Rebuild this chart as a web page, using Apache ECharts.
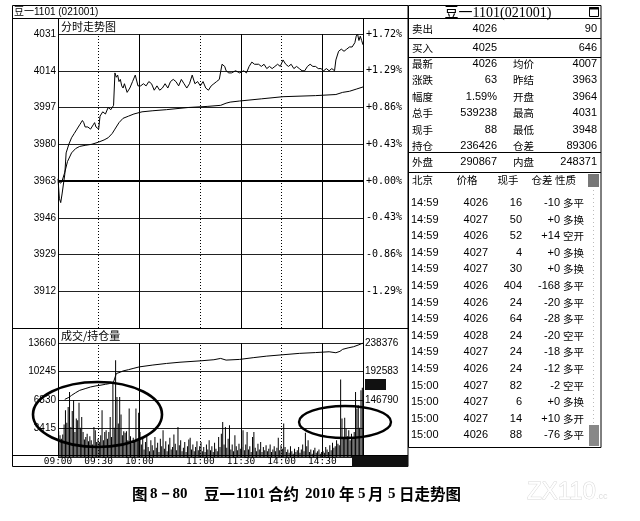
<!DOCTYPE html>
<html><head><meta charset="utf-8">
<script src="https://cdn.jsdelivr.net/npm/echarts@6/dist/echarts.min.js"></script>
<style>html,body{margin:0;padding:0;background:#fff}#c{width:640px;height:521px}</style>
</head><body><div id="c"></div>
<script>
// ---------- data ----------
const prevClose = 3963;
const timeLabels = {0:'09:00',30:'09:30',60:'10:00',105:'11:00',135:'11:30',165:'14:00',195:'14:30'};
const solidTimes = [60,135,195];
const dottedTimes = [30,105,165];

const pricePoints = [[0,3964],[1,3955],[2,3953],[3,3957],[5,3966],[6,3976],[8,3980],[10,3983],[12,3985],[14,3987],[16,3989],[18,3991],[19,3990],[20,3988],[22,3988],[24,3987],[26,3989],[27,3990],[28,3988],[30,3987],[31,3993],[33,3995],[35,3994],[37,3997],[39,3996],[41,3998],[42,4013],[43,4011],[44,4012],[45,4009],[46,4010],[47,4007],[48,4006],[49,4008],[51,4004],[53,4006],[55,4009],[57,4012],[59,4007],[61,4007],[63,4008],[65,4007],[67,4009],[69,4008],[71,4005],[73,4007],[75,4005],[77,4006],[79,4008],[81,4006],[83,4009],[85,4010],[87,4009],[89,4007],[91,4010],[93,4008],[95,4006],[97,4008],[99,4012],[101,4008],[103,4009],[105,4007],[107,4009],[109,4006],[111,4005],[113,4007],[115,4008],[117,4009],[119,4010],[121,4017],[123,4016],[124,4014],[126,4013],[128,4013],[131,4014],[134,4013],[137,4014],[139,4013],[141,4016],[143,4018],[145,4017],[148,4017],[150,4016],[152,4017],[154,4015],[156,4016],[158,4015],[160,4016],[162,4017],[164,4016],[166,4019],[168,4017],[170,4016],[172,4017],[174,4015],[176,4016],[178,4015],[180,4014],[182,4014],[184,4016],[186,4017],[188,4016],[190,4016],[192,4015],[194,4015],[196,4014],[198,4015],[200,4014],[202,4015],[204,4014],[205,4019],[207,4023],[209,4024],[211,4023],[213,4024],[215,4025],[217,4025],[219,4027],[220,4030],[221,4031],[222,4028],[223,4030],[224,4028],[225,4026]];

const avgPoints = [[0,3963],[2,3962],[3,3963],[5,3967],[7,3972],[10,3976],[13,3978],[16,3979],[20,3979.5],[25,3980],[30,3981],[34,3982],[37,3983],[40,3985],[42,3987],[45,3990],[48,3992],[52,3993],[56,3994],[62,3995],[70,3995.5],[80,3996],[96,3997],[110,3997.5],[120,3998],[124,3999],[127,3999.5],[134,4000],[150,4001],[166,4002],[190,4002.5],[205,4003],[210,4004],[215,4004.5],[220,4005.5],[225,4006.5]];

const volume = [
 3100,2600,2200,2700,3900,5600,4100,6000,7800,3600,5500,6800,3000,4600,4400,6500,3500,4800,3000,2100,2400,2800,1900,2500,2000,1500,3600,3200,1800,2200,
 1800,2600,5600,2000,3000,3200,2200,3000,4800,2400,9000,3500,11600,7200,4000,7200,5100,2600,3100,2900,3100,2000,5800,2500,1600,2300,2000,5800,2200,5300,
 3000,1500,2200,900,1800,2600,1200,700,2000,1400,800,2400,1100,1700,600,2200,1300,3200,1000,1900,700,1500,2300,900,1200,2700,1600,800,3600,1400,2000,700,1100,1800,600,1300,2100,2300,900,1500,700,1200,1900,800,1300,
 1800,700,1200,600,1500,900,2000,800,1300,600,1700,1000,700,2400,1200,2800,4200,1500,3600,1100,2200,3800,900,1500,700,2600,1300,800,1600,1000,
 1200,3200,800,1500,3000,900,1300,600,2400,3000,1100,700,1600,900,1800,600,1200,800,1400,700,1000,1500,600,900,1300,700,1100,2300,800,1400,
 1000,4000,1200,600,900,500,1300,700,400,1000,600,800,1200,500,900,1500,700,2900,1300,2000,600,900,400,800,1100,500,700,900,400,600,
 700,500,1200,900,600,1400,800,1700,1100,1300,2000,1600,1400,9300,4600,2200,4700,3400,2500,3200,2000,2800,2400,3000,7800,5800,6200,3500,8000,8300
];

const oiPoints = [[5,147800],[8,151000],[10,154200],[13,158500],[16,162300],[20,165000],[24,167700],[28,169500],[31,170400],[35,172000],[38,173200],[41,175800],[43,189300],[46,191500],[48,193500],[52,195500],[56,197800],[60,200000],[70,203000],[80,205500],[90,207500],[105,209700],[115,211500],[120,213600],[124,210900],[134,212000],[144,214800],[154,217300],[166,219500],[178,221700],[190,223000],[200,224300],[205,222700],[208,225000],[210,228200],[214,230500],[218,232400],[222,235500],[225,238376]];

const oiTop = 238376, oiStep = 45793;
const volTop = 13660, volStep = 3415;

const tableTitle = '豆一1101(021001)';
const leftTitle = '豆一1101 (021001)';
const askRow = ['卖出','4026','90'];
const bidRow = ['买入','4025','646'];
const quoteRows = [['最新','4026','均价','4007'],['涨跌','63','昨结','3963'],['幅度','1.59%','开盘','3964'],['总手','539238','最高','4031'],['现手','88','最低','3948'],['持仓','236426','仓差','89306']];
const outerInner = ['外盘','290867','内盘','248371'];
const tradeHeader = ['北京','价格','现手','仓差','性质'];
const trades = [
 ['14:59','4026','16','-10','多平'],['14:59','4027','50','+0','多换'],['14:59','4026','52','+14','空开'],
 ['14:59','4027','4','+0','多换'],['14:59','4027','30','+0','多换'],['14:59','4026','404','-168','多平'],
 ['14:59','4026','24','-20','多平'],['14:59','4026','64','-28','多平'],['14:59','4028','24','-20','空平'],
 ['14:59','4027','24','-18','多平'],['14:59','4026','24','-12','多平'],['15:00','4027','82','-2','空平'],
 ['15:00','4027','6','+0','多换'],['15:00','4027','14','+10','多开'],['15:00','4026','88','-76','多平']
];
// [text, x, isCJK]
const captionParts = [['图',132,1],['8－80',150,0],['豆一',204,1],['1101',236,0],['合约',268,1],['2010',305,0],['年',339,1],['5',358,0],['月',368,1],['5',388,0],['日走势图',399,1]];

// ---------- chart ----------
const SANS = '"Liberation Sans", Arial, "Noto Sans CJK SC", sans-serif';
const CJK = '"Noto Sans CJK SC", sans-serif';

function T(x, y, text, font, align, extra) {
  return {type:'text', z:30, x:x, y:y, silent:true,
    style:Object.assign({text:text, font:font, fill:'#000', align:align||'left', verticalAlign:'middle'}, extra||{})};
}
function L(x1,y1,x2,y2,w,color,dash){
  return {type:'line', z:25, silent:true, shape:{x1:x1,y1:y1,x2:x2,y2:y2}, style:{stroke:color||'#000', lineWidth:w||1, lineDash:dash||null}};
}
function R(x,y,w,h,fill,stroke){
  return {type:'rect', z:24, silent:true, shape:{x:x,y:y,width:w,height:h}, style:{fill:fill||'none', stroke:stroke||null, lineWidth:1}};
}

const g = [];
// left window frame
g.push(R(12.5,5.5,395.5,461,'none','#000'));
g.push(L(12,18.5,408,18.5));
g.push(T(14,12,leftTitle,'10px '+SANS));
g.push(L(58.5,18,58.5,455));
g.push(L(363.5,18,363.5,455));
g.push(T(61,27,'分时走势图','11px '+CJK));
g.push(L(12,328.5,408,328.5));
g.push(T(61,336,'成交/持仓量','11px '+CJK));
g.push(L(12,455.5,408,455.5));
g.push(R(352,456,56,11,'#111'));
g.push(R(365,379,21,11,'#111'));
// annotation ellipses
g.push({type:'ellipse', z:40, silent:true, shape:{cx:97.5,cy:414.5,rx:64.5,ry:32.5}, style:{fill:'none',stroke:'#000',lineWidth:2.6}});
g.push({type:'ellipse', z:40, silent:true, shape:{cx:345,cy:422,rx:46,ry:16}, style:{fill:'none',stroke:'#000',lineWidth:2.4}});

// right table
g.push(R(408.5,5.5,192.5,442,'none','#000'));
[18.5,38.5,57.5,152.5,172.5].forEach(y=>g.push(L(408,y,601,y)));
g.push(T(498,13,tableTitle,'14px "Liberation Serif", "Noto Sans CJK SC", serif','center'));
g.push(R(589.5,7.5,9,9,'none','#000'));
g.push(L(589,8.5,599,8.5,2));
const lf = '10.5px '+CJK, nf = '11px '+SANS;
g.push(T(412,29,askRow[0],lf)); g.push(T(497,29,askRow[1],nf,'right')); g.push(T(597,29,askRow[2],nf,'right'));
g.push(T(412,48,bidRow[0],lf)); g.push(T(497,48,bidRow[1],nf,'right')); g.push(T(597,48,bidRow[2],nf,'right'));
quoteRows.forEach((r,i)=>{
  const y = 64 + i*16.4;
  g.push(T(412,y,r[0],lf)); g.push(T(497,y,r[1],nf,'right'));
  g.push(T(513,y,r[2],lf)); g.push(T(597,y,r[3],nf,'right'));
});
g.push(T(412,162,outerInner[0],lf)); g.push(T(497,162,outerInner[1],nf,'right'));
g.push(T(513,162,outerInner[2],lf)); g.push(T(597,162,outerInner[3],nf,'right'));
g.push(T(412,180,tradeHeader[0],lf)); g.push(T(467,180,tradeHeader[1],lf,'center'));
g.push(T(508,180,tradeHeader[2],lf,'center')); g.push(T(542,180,tradeHeader[3],lf,'center'));
g.push(T(555,180,tradeHeader[4],lf));
g.push(R(588,174,11,13,'#777'));
g.push(L(593.5,190,593.5,424,1,'#bbb',[1,3]));
g.push(R(589,425,10,21,'#888'));
trades.forEach((r,i)=>{
  const y = 203 + i*16.6;
  g.push(T(411,y,r[0],nf)); g.push(T(488,y,r[1],nf,'right'));
  g.push(T(522,y,r[2],nf,'right')); g.push(T(560,y,r[3],nf,'right'));
  g.push(T(563,y,r[4],lf));
});
// caption
captionParts.forEach(p=>{
  g.push(T(p[1],494,p[0], p[2] ? 'bold 15.5px "Noto Sans CJK SC", sans-serif' : 'bold 15px "Liberation Serif", serif'));
});
g.push(T(527,492,'ZX110',' 24px '+SANS,'left',{fill:'#fff',stroke:'#d8d8d8',lineWidth:1}));
g.push(T(596,497,'.cc','9px '+SANS,'left',{fill:'#ddd'}));

const vLines = solidTimes.map(t=>({xAxis:t, lineStyle:{type:'solid',color:'#000',width:1}}))
  .concat(dottedTimes.map(t=>({xAxis:t, lineStyle:{type:[1,2],color:'#000',width:1}})));

const pctFmt = v => { const d = v - prevClose; if (d <= -68) return ''; const p = d/prevClose*100; return (p>=0?'+':'') + p.toFixed(2) + '%'; };

const option = {
  animation:false,
  backgroundColor:'#fff',
  grid:[
    {left:58, top:34, width:305, height:294},
    {left:58, top:343, width:305, height:114}
  ],
  xAxis:[
    {gridIndex:0, type:'value', min:0, max:225, show:false},
    {gridIndex:1, type:'value', min:0, max:225, interval:15,
     axisLine:{show:false}, axisTick:{show:false}, splitLine:{show:false},
     axisLabel:{margin:0, color:'#000', fontFamily:'DejaVu Sans Mono', fontSize:9.5, lineHeight:10,
       formatter:v=>timeLabels[v]||''}}
  ],
  yAxis:[
    {gridIndex:0, type:'value', min:3895, max:4031, interval:17, position:'left',
     axisLine:{show:false}, axisTick:{show:false},
     axisLabel:{margin:2, color:'#000', fontFamily:'Liberation Sans', fontSize:10, formatter:v=>v<=3895?'':String(v)},
     splitLine:{show:true, lineStyle:{color:'#222', width:1}}},
    {gridIndex:0, type:'value', min:3895, max:4031, interval:17, position:'right',
     axisLine:{show:false}, axisTick:{show:false}, splitLine:{show:false},
     axisLabel:{margin:3, color:'#000', fontFamily:'DejaVu Sans Mono', fontSize:10, formatter:pctFmt}},
    {gridIndex:1, type:'value', min:0, max:volTop, interval:volStep, position:'left',
     axisLine:{show:false}, axisTick:{show:false},
     axisLabel:{margin:2, color:'#000', fontFamily:'Liberation Sans', fontSize:10, formatter:v=>v<=0?'':String(v)},
     splitLine:{show:true, lineStyle:{color:'#222', width:1}}},
    {gridIndex:1, type:'value', min:oiTop-4*oiStep, max:oiTop, interval:oiStep, position:'right',
     axisLine:{show:false}, axisTick:{show:false}, splitLine:{show:false},
     axisLabel:{margin:2, color:'#000', fontFamily:'Liberation Sans', fontSize:10, formatter:v=>v<oiTop-2*oiStep-1?'':String(Math.round(v))}}
  ],
  series:[
    {type:'line', xAxisIndex:0, yAxisIndex:0, data:pricePoints, symbol:'none', lineStyle:{color:'#000', width:1}, z:5,
     markLine:{silent:true, symbol:'none', label:{show:false}, animation:false,
       data: vLines.concat([{yAxis:prevClose, lineStyle:{type:'solid',color:'#000',width:2}}])}},
    {type:'line', xAxisIndex:0, yAxisIndex:0, data:avgPoints, symbol:'none', lineStyle:{color:'#000', width:1}, z:5},
    {type:'bar', xAxisIndex:1, yAxisIndex:2, data:volume.map((v,i)=>[i+0.5,v]), barWidth:1, itemStyle:{color:'#000'},
     markLine:{silent:true, symbol:'none', label:{show:false}, animation:false, data:vLines}},
    {type:'line', xAxisIndex:1, yAxisIndex:3, data:oiPoints, symbol:'none', lineStyle:{color:'#000', width:1}, z:5}
  ],
  graphic:g
};
const chart = echarts.init(document.getElementById('c'), null, {renderer:'canvas'});
chart.setOption(option);
</script></body></html>
